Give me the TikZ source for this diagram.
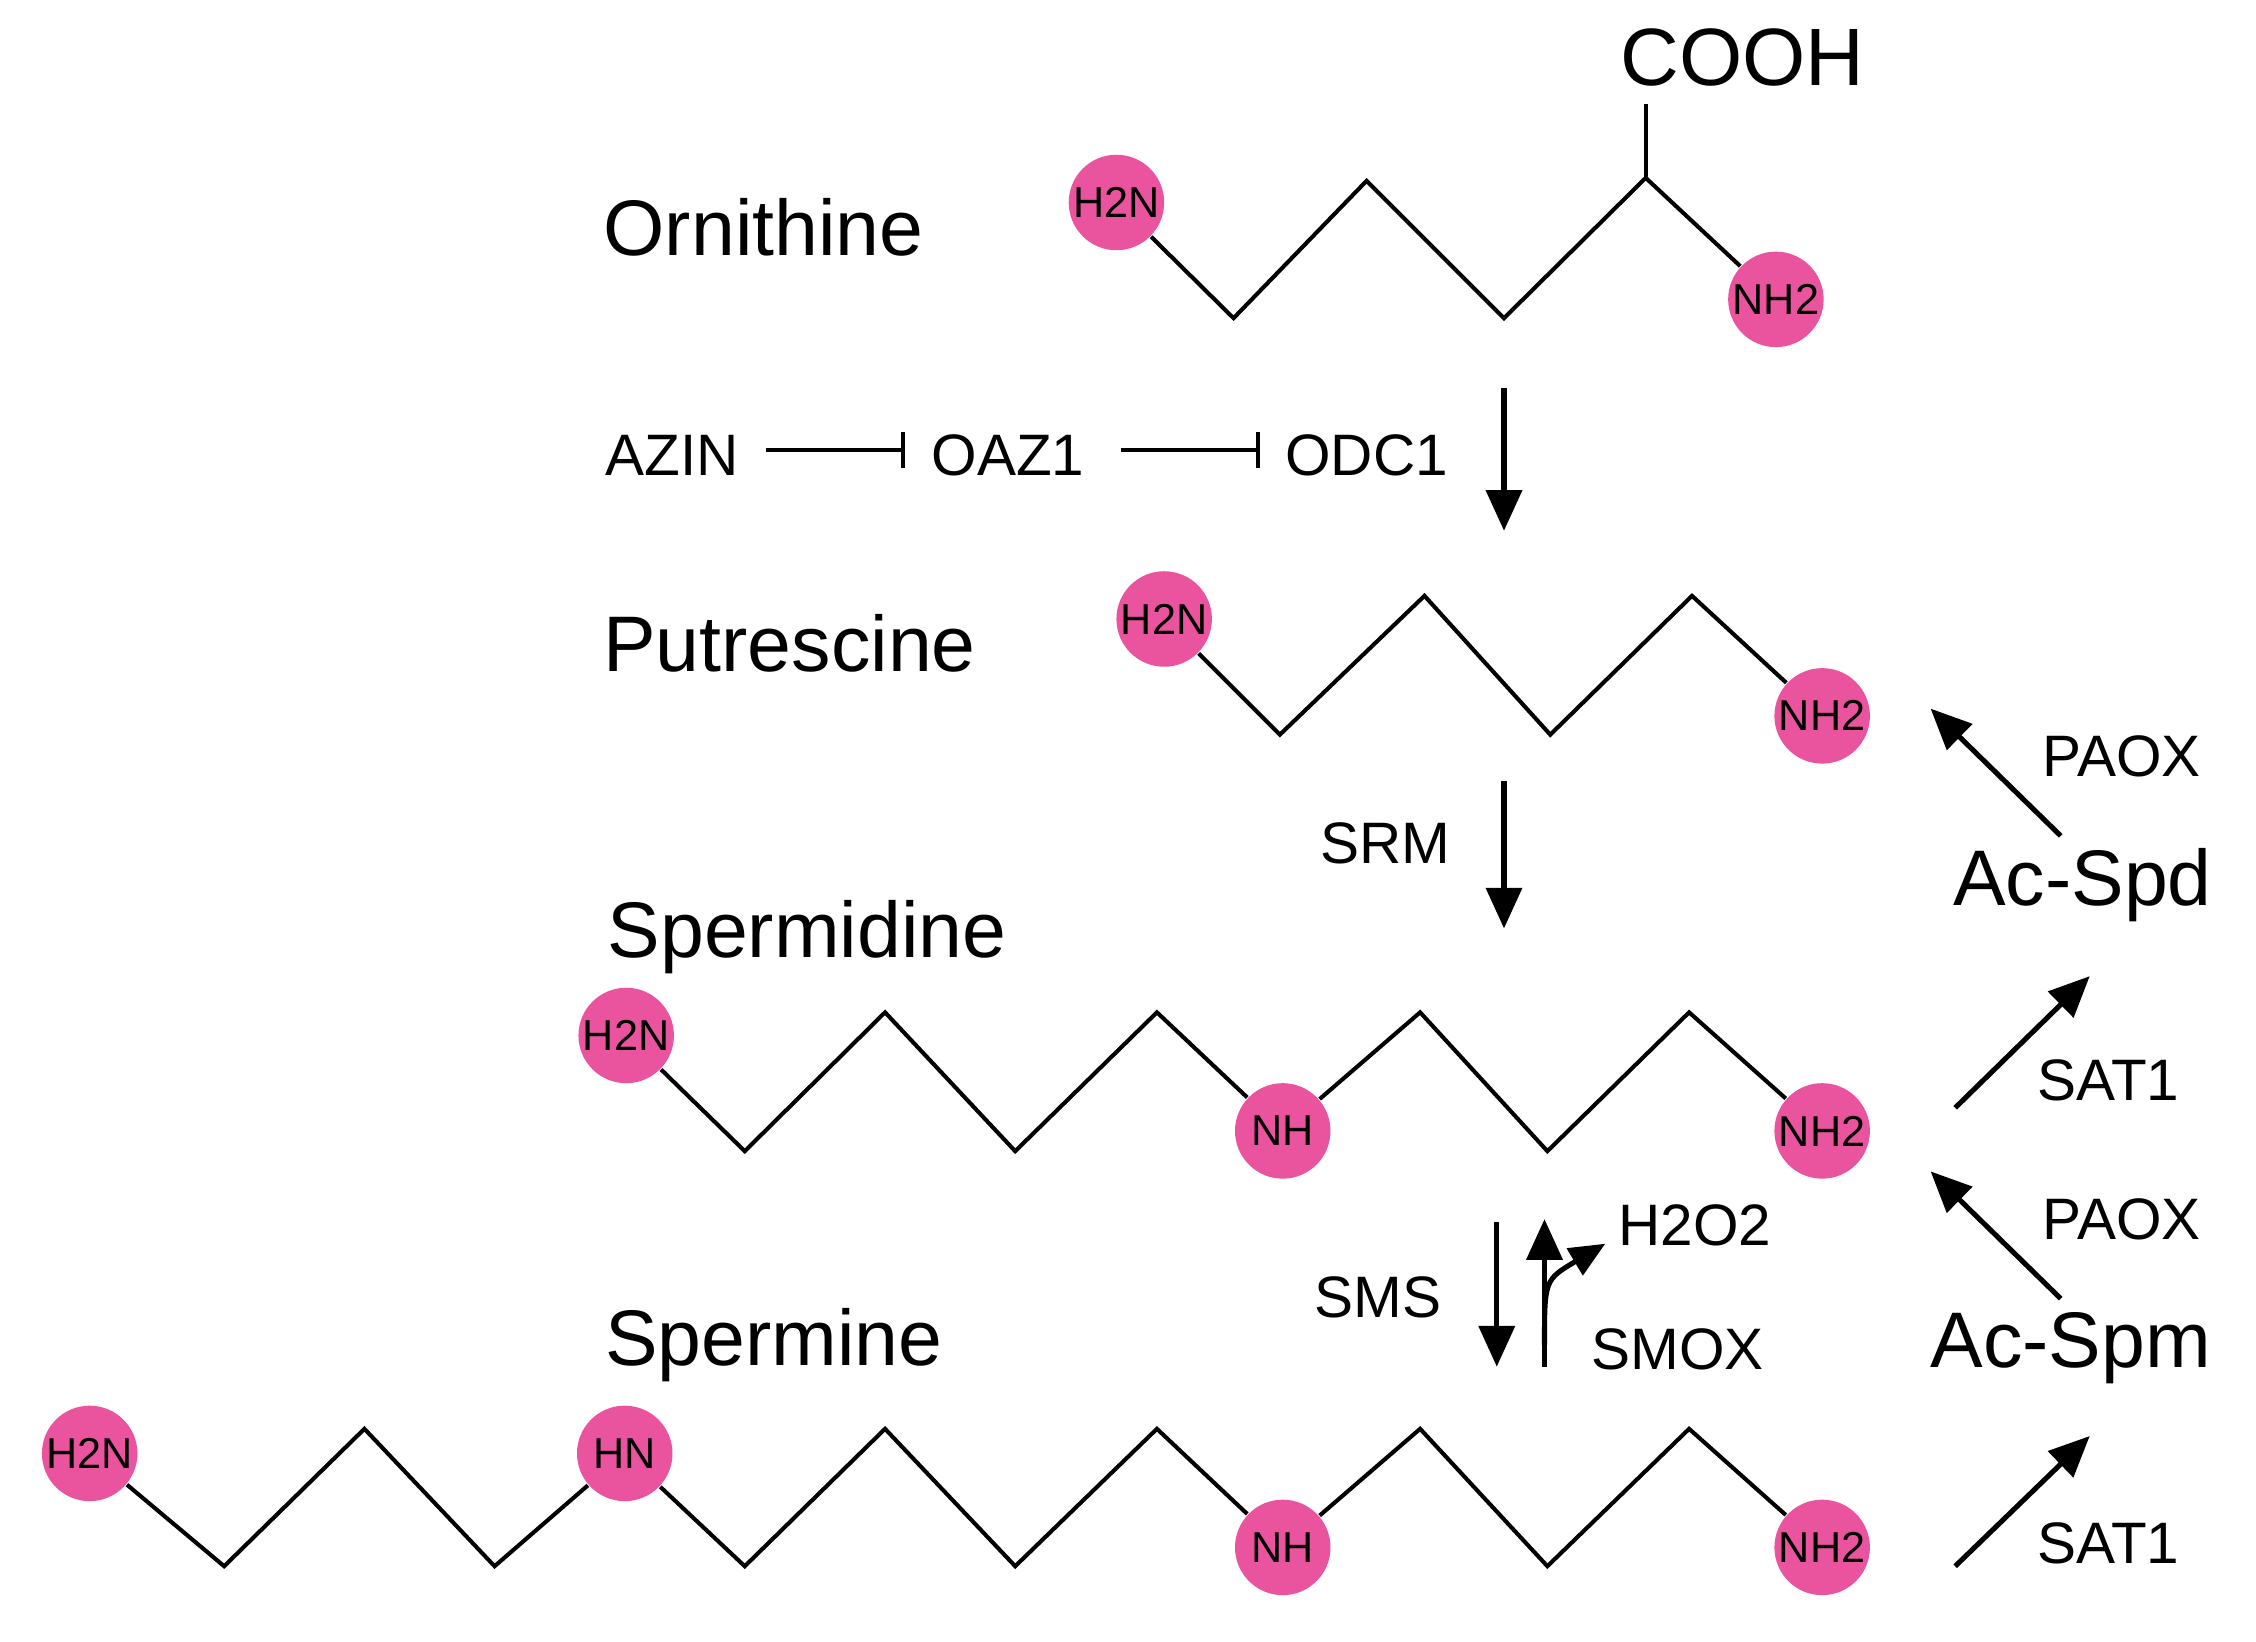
\documentclass[tikz,border=0pt]{standalone}
\usepackage{fontspec}
\setmainfont{Liberation Sans}
\usepackage{tikz}
\usetikzlibrary{arrows.meta}
\definecolor{amin}{RGB}{234,84,158}

\begin{document}
\begin{tikzpicture}[x=0.01cm, y=-0.01cm,
  grp/.style={circle, fill=amin, minimum size=0.66cm, inner sep=0pt, font=\fontsize{8.5}{9}\selectfont},
  mol/.style={font=\fontsize{15.5}{17}\selectfont},
  enz/.style={font=\fontsize{11.5}{13}\selectfont},
  bond/.style={line width=0.8pt},
  conv/.style={line width=1pt, -{Triangle[length=8pt, width=7pt]}},
  block/.style={line width=0.8pt, -{Bar[width=7pt]}}]
  \useasboundingbox (0,0) rectangle (1560,1135);

  %Ornithine
  \node[mol] (orn) at (528,157) {Ornithine};
  \node[grp] (o1) at (772,140) {H2N};
  \node[grp] (o2) at (1228,207) {NH2};
  \coordinate (oc) at (1138,123);
  \node[font=\fontsize{16}{18}\selectfont] (cooh) at (1205,40) {COOH};
  \draw[bond] (o1) -- (853,220) -- (945,125) -- (1040,220) -- (oc) -- (o2);
  \draw[bond] (oc) -- (1138,72);

  %Regulation
  \node[enz] (azin) at (465,315) {AZIN};
  \node[enz] (oaz) at (697,315) {OAZ1};
  \node[enz] (odc) at (945,315) {ODC1};
  \coordinate (a1) at (530,311);
  \coordinate (a2) at (626,311);
  \coordinate (a3) at (775,311);
  \coordinate (a4) at (871,311);
  \draw[block] (a1) -- (a2);
  \draw[block] (a3) -- (a4);
  \coordinate (s1) at (1040,268);
  \coordinate (e1) at (1040,367);
  \draw[conv] (s1) -- (e1);

  %Putrescine
  \node[mol] (put) at (546,445) {Putrescine};
  \node[grp] (p1) at (805,428) {H2N};
  \node[grp] (p2) at (1260,495) {NH2};
  \draw[bond] (p1) -- (885,508) -- (985,412) -- (1072,508) -- (1170,412) -- (p2);

  \node[enz] (srm) at (958,583) {SRM};
  \coordinate (s2) at (1040,540);
  \coordinate (e2) at (1040,642);
  \draw[conv] (s2) -- (e2);

  %Spermidine
  \node[mol] (spd) at (558,648) {Spermidine};
  \node[grp] (d1) at (433,716) {H2N};
  \node[grp] (d2) at (887,782) {NH};
  \node[grp] (d3) at (1260,782) {NH2};
  \draw[bond] (d1) -- (515,796) -- (612,700) -- (702,796) -- (800,700) -- (d2)
    -- (982,700) -- (1070,796) -- (1168,700) -- (d3);

  \node[enz] (sms) at (953,897) {SMS};
  \node[enz] (hoo) at (1172,847) {H2O2};
  \node[enz] (smox) at (1160,933) {SMOX};
  \coordinate (s3) at (1035,845);
  \coordinate (e3) at (1035,945);
  \coordinate (s4) at (1068,945);
  \coordinate (e4) at (1068,843);
  \draw[conv] (s3) -- (e3);
  \draw[conv] (s4) -- (e4);
  \draw[line width=1pt, -{Triangle[length=7pt, width=6pt]}] (1068,930) .. controls (1068,885) .. (1110,860);

  %Spermine
  \node[mol] (spm) at (535,930) {Spermine};
  \node[grp] (m1) at (62,1005) {H2N};
  \node[grp] (m2) at (432,1005) {HN};
  \node[grp] (m3) at (887,1070) {NH};
  \node[grp] (m4) at (1260,1070) {NH2};
  \draw[bond] (m1) -- (155,1083) -- (252,988) -- (342,1083) -- (m2);
  \draw[bond] (m2) -- (515,1083) -- (612,988) -- (702,1083) -- (800,988) -- (m3)
    -- (982,988) -- (1070,1083) -- (1168,988) -- (m4);

  %Acetylation
  \node[mol] (acspd) at (1440,612) {Ac-Spd};
  \node[mol] (acspm) at (1432,932) {Ac-Spm};
  \node[enz] (paox1) at (1467,523) {PAOX};
  \node[enz] (paox2) at (1467,843) {PAOX};
  \node[enz] (sat1) at (1458,747) {SAT1};
  \node[enz] (sat2) at (1458,1067) {SAT1};
  \coordinate (x1) at (1425,578);
  \coordinate (y1) at (1335,490);
  \coordinate (x2) at (1352,766);
  \coordinate (y2) at (1445,675);
  \coordinate (x3) at (1425,898);
  \coordinate (y3) at (1335,810);
  \coordinate (x4) at (1352,1083);
  \coordinate (y4) at (1445,993);
  \draw[conv] (x1) -- (y1);
  \draw[conv] (x2) -- (y2);
  \draw[conv] (x3) -- (y3);
  \draw[conv] (x4) -- (y4);
\end{tikzpicture}
\end{document}
